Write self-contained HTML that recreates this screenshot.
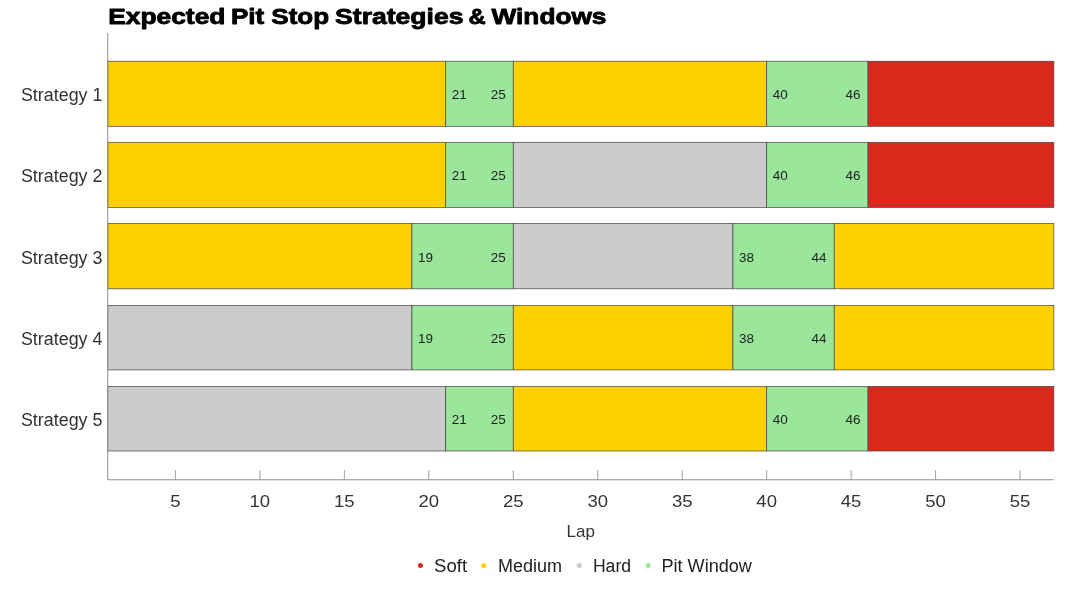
<!DOCTYPE html>
<html lang="en"><head><meta charset="utf-8"><title>Expected Pit Stop Strategies &amp; Windows</title>
<style>
html,body{margin:0;padding:0;background:#fff;}
body{width:1081px;height:608px;overflow:hidden;font-family:"Liberation Sans",sans-serif;}
svg{display:block;}
text{font-family:"Liberation Sans",sans-serif;fill:#333;}
.title{font-weight:bold;font-size:21.2px;fill:#000;stroke:#000;stroke-width:0.8px;stroke-linejoin:round;}
.ylab{font-size:18px;}
.xt{font-size:17.2px;}
.in{font-size:13.5px;fill:#1e1e1e;}
.leg{font-size:18px;fill:#222;}
.bar{stroke:#444;stroke-width:0.7;}
</style></head><body>
<svg width="1081" height="608" viewBox="0 0 1081 608">
<rect width="1081" height="608" fill="#fff"/>
<text class="title" y="24"><tspan x="108.18" textLength="117.27" lengthAdjust="spacingAndGlyphs">Expected</tspan> <tspan x="230.92" textLength="33.26" lengthAdjust="spacingAndGlyphs">Pit</tspan> <tspan x="271.33" textLength="57.78" lengthAdjust="spacingAndGlyphs">Stop</tspan> <tspan x="335.10" textLength="128.35" lengthAdjust="spacingAndGlyphs">Strategies</tspan> <tspan x="468.40" textLength="17.23" lengthAdjust="spacingAndGlyphs">&amp;</tspan> <tspan x="491.55" textLength="114.93" lengthAdjust="spacingAndGlyphs">Windows</tspan></text>

<g>
<rect class="bar" x="107.85" y="61.20" width="337.86" height="65.10" fill="#FFD000"/>
<rect class="bar" x="445.71" y="61.20" width="67.57" height="65.10" fill="#9AE69A"/>
<rect class="bar" x="513.28" y="61.20" width="253.39" height="65.10" fill="#FFD000"/>
<rect class="bar" x="766.67" y="61.20" width="101.36" height="65.10" fill="#9AE69A"/>
<rect class="bar" x="868.03" y="61.20" width="185.82" height="65.10" fill="#DA291C"/>
<text class="in" x="451.81" y="99">21</text>
<text class="in" x="505.68" y="99" text-anchor="end">25</text>
<text class="in" x="772.77" y="99">40</text>
<text class="in" x="860.43" y="99" text-anchor="end">46</text>
<text class="ylab" x="20.9" y="101" textLength="81.6" lengthAdjust="spacingAndGlyphs">Strategy 1</text>
</g>
<g>
<rect class="bar" x="107.85" y="142.30" width="337.86" height="65.10" fill="#FFD000"/>
<rect class="bar" x="445.71" y="142.30" width="67.57" height="65.10" fill="#9AE69A"/>
<rect class="bar" x="513.28" y="142.30" width="253.39" height="65.10" fill="#CCCCCC"/>
<rect class="bar" x="766.67" y="142.30" width="101.36" height="65.10" fill="#9AE69A"/>
<rect class="bar" x="868.03" y="142.30" width="185.82" height="65.10" fill="#DA291C"/>
<text class="in" x="451.81" y="180">21</text>
<text class="in" x="505.68" y="180" text-anchor="end">25</text>
<text class="in" x="772.77" y="180">40</text>
<text class="in" x="860.43" y="180" text-anchor="end">46</text>
<text class="ylab" x="20.9" y="182" textLength="81.6" lengthAdjust="spacingAndGlyphs">Strategy 2</text>
</g>
<g>
<rect class="bar" x="107.85" y="223.40" width="304.07" height="65.40" fill="#FFD000"/>
<rect class="bar" x="411.92" y="223.40" width="101.36" height="65.40" fill="#9AE69A"/>
<rect class="bar" x="513.28" y="223.40" width="219.61" height="65.40" fill="#CCCCCC"/>
<rect class="bar" x="732.89" y="223.40" width="101.36" height="65.40" fill="#9AE69A"/>
<rect class="bar" x="834.24" y="223.40" width="219.61" height="65.40" fill="#FFD000"/>
<text class="in" x="418.02" y="262">19</text>
<text class="in" x="505.68" y="262" text-anchor="end">25</text>
<text class="in" x="738.99" y="262">38</text>
<text class="in" x="826.64" y="262" text-anchor="end">44</text>
<text class="ylab" x="20.9" y="264" textLength="81.6" lengthAdjust="spacingAndGlyphs">Strategy 3</text>
</g>
<g>
<rect class="bar" x="107.85" y="305.40" width="304.07" height="64.50" fill="#CCCCCC"/>
<rect class="bar" x="411.92" y="305.40" width="101.36" height="64.50" fill="#9AE69A"/>
<rect class="bar" x="513.28" y="305.40" width="219.61" height="64.50" fill="#FFD000"/>
<rect class="bar" x="732.89" y="305.40" width="101.36" height="64.50" fill="#9AE69A"/>
<rect class="bar" x="834.24" y="305.40" width="219.61" height="64.50" fill="#FFD000"/>
<text class="in" x="418.02" y="343">19</text>
<text class="in" x="505.68" y="343" text-anchor="end">25</text>
<text class="in" x="738.99" y="343">38</text>
<text class="in" x="826.64" y="343" text-anchor="end">44</text>
<text class="ylab" x="20.9" y="345" textLength="81.6" lengthAdjust="spacingAndGlyphs">Strategy 4</text>
</g>
<g>
<rect class="bar" x="107.85" y="386.50" width="337.86" height="64.50" fill="#CCCCCC"/>
<rect class="bar" x="445.71" y="386.50" width="67.57" height="64.50" fill="#9AE69A"/>
<rect class="bar" x="513.28" y="386.50" width="253.39" height="64.50" fill="#FFD000"/>
<rect class="bar" x="766.67" y="386.50" width="101.36" height="64.50" fill="#9AE69A"/>
<rect class="bar" x="868.03" y="386.50" width="185.82" height="64.50" fill="#DA291C"/>
<text class="in" x="451.81" y="424">21</text>
<text class="in" x="505.68" y="424" text-anchor="end">25</text>
<text class="in" x="772.77" y="424">40</text>
<text class="in" x="860.43" y="424" text-anchor="end">46</text>
<text class="ylab" x="20.9" y="426" textLength="81.6" lengthAdjust="spacingAndGlyphs">Strategy 5</text>
</g>
<path d="M107.7 33V479.75H1053.85" fill="none" stroke="#909090" stroke-width="1"/>
<path d="M175.42 470V479.5" stroke="#808080" stroke-width="0.75"/>
<text class="xt" x="175.42" y="506.5" text-anchor="middle" textLength="10.3" lengthAdjust="spacingAndGlyphs">5</text>
<path d="M259.89 470V479.5" stroke="#808080" stroke-width="0.75"/>
<text class="xt" x="259.89" y="506.5" text-anchor="middle" textLength="20.6" lengthAdjust="spacingAndGlyphs">10</text>
<path d="M344.35 470V479.5" stroke="#808080" stroke-width="0.75"/>
<text class="xt" x="344.35" y="506.5" text-anchor="middle" textLength="20.6" lengthAdjust="spacingAndGlyphs">15</text>
<path d="M428.81 470V479.5" stroke="#808080" stroke-width="0.75"/>
<text class="xt" x="428.81" y="506.5" text-anchor="middle" textLength="20.6" lengthAdjust="spacingAndGlyphs">20</text>
<path d="M513.28 470V479.5" stroke="#808080" stroke-width="0.75"/>
<text class="xt" x="513.28" y="506.5" text-anchor="middle" textLength="20.6" lengthAdjust="spacingAndGlyphs">25</text>
<path d="M597.74 470V479.5" stroke="#808080" stroke-width="0.75"/>
<text class="xt" x="597.74" y="506.5" text-anchor="middle" textLength="20.6" lengthAdjust="spacingAndGlyphs">30</text>
<path d="M682.21 470V479.5" stroke="#808080" stroke-width="0.75"/>
<text class="xt" x="682.21" y="506.5" text-anchor="middle" textLength="20.6" lengthAdjust="spacingAndGlyphs">35</text>
<path d="M766.67 470V479.5" stroke="#808080" stroke-width="0.75"/>
<text class="xt" x="766.67" y="506.5" text-anchor="middle" textLength="20.6" lengthAdjust="spacingAndGlyphs">40</text>
<path d="M851.14 470V479.5" stroke="#808080" stroke-width="0.75"/>
<text class="xt" x="851.14" y="506.5" text-anchor="middle" textLength="20.6" lengthAdjust="spacingAndGlyphs">45</text>
<path d="M935.60 470V479.5" stroke="#808080" stroke-width="0.75"/>
<text class="xt" x="935.60" y="506.5" text-anchor="middle" textLength="20.6" lengthAdjust="spacingAndGlyphs">50</text>
<path d="M1020.06 470V479.5" stroke="#808080" stroke-width="0.75"/>
<text class="xt" x="1020.06" y="506.5" text-anchor="middle" textLength="20.6" lengthAdjust="spacingAndGlyphs">55</text>
<text class="leg" x="580.7" y="536.8" text-anchor="middle" style="fill:#333;font-size:17px">Lap</text>
<circle cx="420.4" cy="565.5" r="2.5" fill="#DA291C"/>
<text class="leg" x="434.1" y="572.0" textLength="33.0" lengthAdjust="spacingAndGlyphs">Soft</text>
<circle cx="483.7" cy="565.5" r="2.5" fill="#FFD000"/>
<text class="leg" x="498.0" y="572.0" textLength="64.0" lengthAdjust="spacingAndGlyphs">Medium</text>
<circle cx="579.3" cy="565.5" r="2.5" fill="#CCCCCC"/>
<text class="leg" x="592.9" y="572.0" textLength="38.2" lengthAdjust="spacingAndGlyphs">Hard</text>
<circle cx="648.2" cy="565.5" r="2.5" fill="#9AE69A"/>
<text class="leg" x="661.5" y="572.0" textLength="90.4" lengthAdjust="spacingAndGlyphs">Pit Window</text>
</svg>
</body></html>
